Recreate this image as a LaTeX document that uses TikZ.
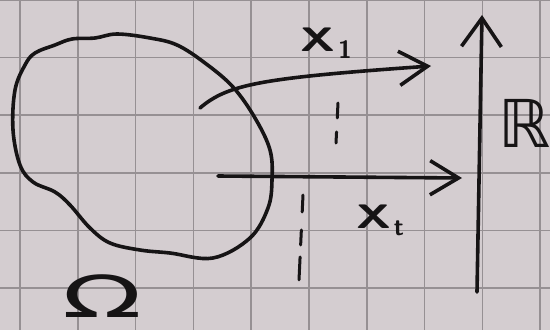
\documentclass[tikz,border=0pt]{standalone}
\usepackage{fontspec}
\newfontfamily\symfont{DejaVu Sans}
\usepackage{tikz}
\usetikzlibrary{arrows.meta,positioning}
\definecolor{paper}{RGB}{212,205,208}
\definecolor{gridink}{RGB}{150,144,147}
\definecolor{pen}{RGB}{22,20,21}
\newcommand{\handsub}[2]{\scalebox{1.4}[1]{\fontsize{34}{40}\selectfont #1}\hspace{3pt}\raisebox{-7pt}{\fontsize{25}{30}\selectfont #2}}
\tikzset{
  ink/.style={draw=pen,line width=3.6pt,line cap=round,line join=round},
  gridln/.style={gridink,line width=1.6pt},
  harr/.style={ink,-{Straight Barb[length=10mm,width=12mm,line width=3.6pt]}},
  axarr/.style={ink,-{Straight Barb[length=10mm,width=14mm,line width=3.6pt]}},
  dots/.style={ink,line width=3pt},
  lbl/.style={text=pen,inner sep=0pt,font=\sffamily\bfseries},
}

\begin{document}
\begin{tikzpicture}[x=1pt,y=-1pt]
  \fill[paper] (0,0) rectangle (550,330);
  \useasboundingbox (0,0) rectangle (550,330);
  \foreach \i in {0,...,9}
    \draw[gridln] ({20+57.8*\i},0) -- ({20+57.8*\i},330);
  \foreach \j in {0,...,5}
    \draw[gridln] (0,{57.6*\j}) -- (550,{57.6*\j});
  \draw[ink] plot[smooth cycle,tension=0.6] coordinates {
    (35,53) (55,45) (72,39) (95,38) (117,34) (150,38) (177,45) (205,63)
    (233,87) (255,118) (270,150) (272,180) (268,208) (250,238) (213,258)
    (170,253) (140,250) (110,243) (90,228) (70,205) (55,192) (33,182)
    (20,165) (13,130) (15,90) (25,65)};
  \coordinate (x1s) at (200,108);
  \coordinate (x1e) at (431,66);
  \coordinate (xts) at (218,176);
  \coordinate (xte) at (462,178);
  \coordinate (rs) at (477,292);
  \coordinate (re) at (482,15);
  \draw[harr] (x1s) .. controls (228,84) and (262,78) .. (x1e);
  \draw[harr] (xts) -- (xte);
  \draw[axarr] (rs) -- (re);
  \draw[dots,dash pattern=on 15pt off 14pt] (338,103) -- (336,143);
  \draw[dots,dash pattern=on 17pt off 18pt on 15pt off 12pt on 23pt off 5pt] (303,195) -- (299,280);
  \node[lbl] (lx1) at (326,43) {\handsub{X}{1}};
  \node[lbl] (lxt) at (380,220) {\handsub{X}{t}};
  \node[lbl] (lr) at (525,123) {\symfont\mdseries\fontsize{66}{70}\selectfont ℝ};
  \node[lbl] (lom) at (102,296) {\scalebox{1.8}[1]{\symfont\mdseries\fontsize{58}{60}\selectfont Ω}};
\end{tikzpicture}
\end{document}
